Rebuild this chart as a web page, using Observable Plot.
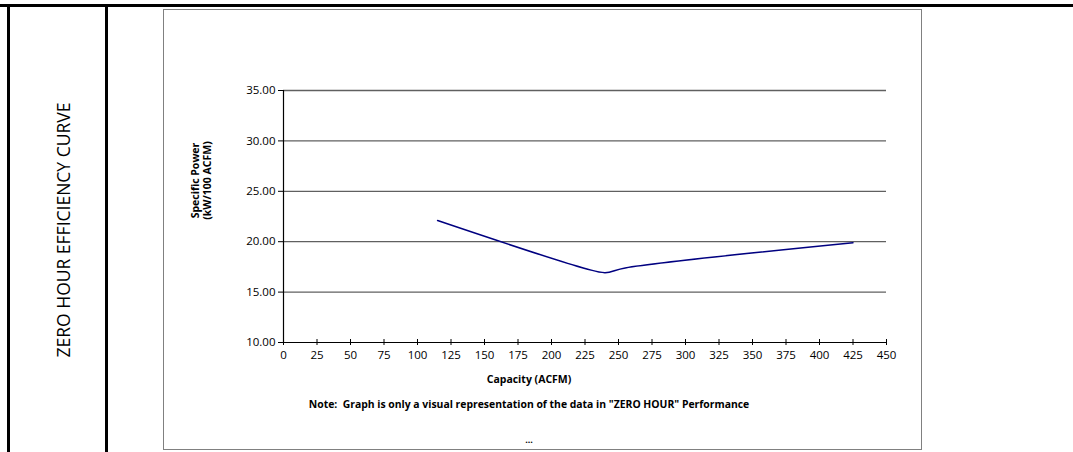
<!DOCTYPE html>
<html>
<head>
<meta charset="utf-8">
<script src="https://cdn.jsdelivr.net/npm/d3@7"></script>
<script src="https://cdn.jsdelivr.net/npm/@observablehq/plot@0.6"></script>
<style>
  html, body { margin: 0; padding: 0; background: #fff; }
  #page { position: relative; width: 1073px; height: 452px; overflow: hidden; font-family: "Open Sans", sans-serif; }
  .bar { position: absolute; background: #000; }
  #box { position: absolute; left: 163px; top: 9px; width: 757px; height: 439px; border: 1.5px solid #808080; }
  #side { position: absolute; left: 63px; top: 230px; transform: translate(-50%, -50%) rotate(-90deg); white-space: nowrap; font-size: 17.5px; color: #000; }
  #chart { position: absolute; left: 164px; top: 10px; }
</style>
</head>
<body>
<div id="page">
  <div class="bar" style="left:0;top:4px;width:1073px;height:3px"></div>
  <div class="bar" style="left:7px;top:4px;width:2.5px;height:448px"></div>
  <div class="bar" style="left:105px;top:4px;width:3px;height:448px"></div>
  <div id="side">ZERO HOUR EFFICIENCY CURVE</div>
  <div id="box"></div>
  <div id="chart"></div>
</div>
<script>
// Data
const capacity = [115, 225, 240, 255, 425];
const specificPower = [22.1, 17.35, 16.93, 17.4, 19.9];
const xTicks = [0, 25, 50, 75, 100, 125, 150, 175, 200, 225, 250, 275, 300, 325, 350, 375, 400, 425, 450];
const yTicks = [10, 15, 20, 25, 30, 35];
const gridValues = [15, 20, 25, 30, 35];
const yLabel = "Specific Power\n(kW/100 ACFM)";
const xLabel = "Capacity (ACFM)";
const note = "Note:  Graph is only a visual representation of the data in \"ZERO HOUR\" Performance";
const dots = "...";

const data = capacity.map((c, i) => ({x: c, y: specificPower[i]}));

const plot = Plot.plot({
  width: 757,
  height: 439,
  marginLeft: 119,
  marginRight: 35,
  marginTop: 80,
  marginBottom: 107,
  style: {fontFamily: "Open Sans, sans-serif", fontSize: "11.5px", color: "#000", background: "transparent"},
  x: {domain: [0, 450]},
  y: {domain: [10, 35]},
  marks: [
    Plot.ruleY(gridValues, {stroke: "#606060", strokeWidth: 1.3}),
    Plot.axisY({ticks: yTicks, tickFormat: d3.format(".2f"), tickSize: 5, tickPadding: 3, label: null, stroke: "#000", fill: "#000"}),
    Plot.axisX({ticks: xTicks, tickFormat: d => d, tickSize: 3, tickPadding: 5, label: null, stroke: "#000", fill: "#000"}),
    Plot.axisX({ticks: xTicks, tickFormat: null, text: null, tickSize: 3, dy: -3, label: null, stroke: "#000"}),
    Plot.ruleX([0], {stroke: "#000", strokeWidth: 1.2}),
    Plot.ruleY([10], {stroke: "#000", strokeWidth: 1.2}),
    Plot.line(data, {x: "x", y: "y", stroke: "#000080", strokeWidth: 1.5, curve: "catmull-rom"}),
    Plot.text([yLabel], {text: d => d, frameAnchor: "left", textAnchor: "middle", rotate: -90, dx: -82, dy: -36, fontWeight: "bold", fontSize: 10.5, lineHeight: 1.15, fill: "#000"}),
    Plot.text([xLabel], {text: d => d, frameAnchor: "bottom", dx: -56, dy: 40, fontWeight: "bold", fontSize: 10.5, fill: "#000"}),
    Plot.text([note], {text: d => d, frameAnchor: "bottom", dx: -56, dy: 65, fontWeight: "bold", fontSize: 10.4, fill: "#000"}),
    Plot.text([dots], {text: d => d, frameAnchor: "bottom", dx: -56, dy: 100, fontWeight: "bold", fontSize: 9, fill: "#000"})
  ]
});
document.getElementById("chart").appendChild(plot);
</script>
</body>
</html>
